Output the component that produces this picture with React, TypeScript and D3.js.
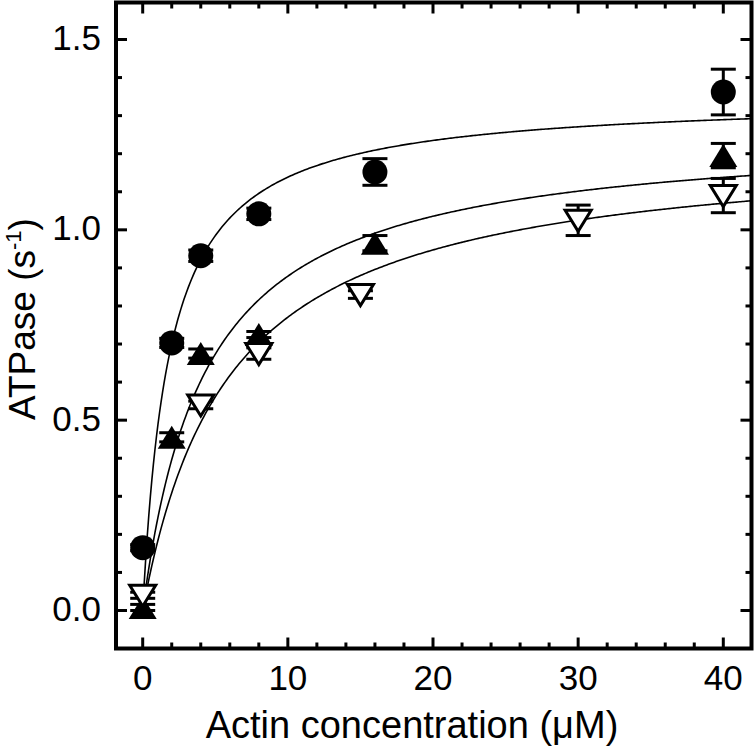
import React from 'react';
import * as d3 from 'd3';

const W = 755;
const H = 747;

// Series: filled circles
const circleX = [0, 2, 4, 8, 16, 40];
const circleY = [0.165, 0.703, 0.932, 1.042, 1.152, 1.362];
const circleErr = [0.008, 0.012, 0.015, 0.015, 0.035, 0.06];
// Series: filled up-triangles
const triX = [0, 2, 4, 8, 16, 40];
const triY = [0.008, 0.455, 0.675, 0.725, 0.965, 1.195];
const triErr = [0.008, 0.012, 0.012, 0.008, 0.02, 0.032];
// Series: open down-triangles
const invX = [0, 4, 8, 15, 30, 40];
const invY = [0.04, 0.54, 0.675, 0.83, 1.025, 1.09];
const invErr = [0.008, 0.01, 0.015, 0.01, 0.04, 0.045];

// Michaelis-Menten fit parameters (circle, triangle, inverted triangle)
const fitVmax = [1.349, 1.262, 1.229];
const fitKm = [1.85, 4.37, 5.95];

const xMajor = [0, 10, 20, 30, 40];
const xMajorLabels = ['0', '10', '20', '30', '40'];
const xMinor = [2, 4, 6, 8, 12, 14, 16, 18, 22, 24, 26, 28, 32, 34, 36, 38];
const yMajor = [0, 0.5, 1.0, 1.5];
const yMajorLabels = ['0.0', '0.5', '1.0', '1.5'];
const yMinor = [0.1, 0.2, 0.3, 0.4, 0.6, 0.7, 0.8, 0.9, 1.1, 1.2, 1.3, 1.4];

const L = 116, R = 751.5, T = 2.5, B = 648.5;
const FONT = '"Liberation Sans", Arial, Helvetica, sans-serif';

export default function App() {
  const x = d3.scaleLinear().domain([0, 40]).range([142.7, 723.3]);
  const y = d3.scaleLinear().domain([0, 1.5]).range([610.5, 39.5]);

  const xEnd = x.invert(R);
  const samples = d3.range(0, 400).map((i) => (i / 399) * xEnd);
  const line = d3
    .line<number[]>()
    .x((d) => x(d[0]))
    .y((d) => y(d[1]));

  const curves = fitVmax.map((V, i) =>
    line(samples.map((c) => [c, (V * c) / (fitKm[i] + c)]))
  );

  const errBar = (cx: number, v: number, e: number, key: string) => {
    const px = x(cx);
    const y1 = y(v + e);
    const y2 = y(v - e);
    return (
      <g key={key} stroke="#000" strokeWidth={3}>
        <line x1={px} x2={px} y1={y1} y2={y2} />
        <line x1={px - 12.5} x2={px + 12.5} y1={y1} y2={y1} />
        <line x1={px - 12.5} x2={px + 12.5} y1={y2} y2={y2} />
      </g>
    );
  };

  const tw = 14; // half width of triangle
  const th = 11.5; // half height of triangle
  const upTri = (px: number, py: number) =>
    `M${px},${py - th}L${px + tw},${py + th}L${px - tw},${py + th}Z`;
  const downTri = (px: number, py: number) =>
    `M${px - 13},${py - 10}L${px + 13},${py - 10}L${px},${py + 11}Z`;

  return (
    <svg
      width={W}
      height={H}
      style={{ position: 'absolute', left: 0, top: 0, background: '#fff' }}
      fontFamily={FONT}
    >
      <rect x={0} y={0} width={W} height={H} fill="#fff" />
      <defs>
        <clipPath id="plotClip">
          <rect x={L} y={T} width={R - L} height={B - T} />
        </clipPath>
      </defs>

      {/* fit curves */}
      <g clipPath="url(#plotClip)" fill="none" stroke="#000" strokeWidth={1.6}>
        {curves.map((d, i) => (
          <path key={i} d={d || ''} />
        ))}
      </g>

      {/* error bars */}
      {circleX.map((c, i) => errBar(c, circleY[i], circleErr[i], 'ce' + i))}
      {triX.map((c, i) => errBar(c, triY[i], triErr[i], 'te' + i))}
      {invX.map((c, i) => errBar(c, invY[i], invErr[i], 'ie' + i))}

      {/* markers */}
      {triX.map((c, i) => (
        <path key={'t' + i} d={upTri(x(c), y(triY[i]))} fill="#000" />
      ))}
      {invX.map((c, i) => (
        <path
          key={'i' + i}
          d={downTri(x(c), y(invY[i]))}
          fill="#fff"
          stroke="#000"
          strokeWidth={3}
          strokeLinejoin="miter"
        />
      ))}
      {circleX.map((c, i) => (
        <circle key={'c' + i} cx={x(c)} cy={y(circleY[i])} r={12.5} fill="#000" />
      ))}

      {/* ticks */}
      <g stroke="#000" strokeWidth={3}>
        {xMajor.map((v) => (
          <g key={'xM' + v}>
            <line x1={x(v)} x2={x(v)} y1={B} y2={B - 11} />
            <line x1={x(v)} x2={x(v)} y1={T} y2={T + 11} />
          </g>
        ))}
        {xMinor.map((v) => (
          <g key={'xm' + v}>
            <line x1={x(v)} x2={x(v)} y1={B} y2={B - 6} />
            <line x1={x(v)} x2={x(v)} y1={T} y2={T + 6} />
          </g>
        ))}
        {yMajor.map((v) => (
          <g key={'yM' + v}>
            <line x1={L} x2={L + 11} y1={y(v)} y2={y(v)} />
            <line x1={R} x2={R - 11} y1={y(v)} y2={y(v)} />
          </g>
        ))}
        {yMinor.map((v) => (
          <g key={'ym' + v}>
            <line x1={L} x2={L + 6} y1={y(v)} y2={y(v)} />
            <line x1={R} x2={R - 6} y1={y(v)} y2={y(v)} />
          </g>
        ))}
      </g>

      {/* frame */}
      <rect x={L} y={T} width={R - L} height={B - T} fill="none" stroke="#000" strokeWidth={4} />

      {/* tick labels */}
      <g fontSize={35} fill="#000">
        {xMajor.map((v, i) => (
          <text key={'xl' + v} x={x(v)} y={690} textAnchor="middle">
            {xMajorLabels[i]}
          </text>
        ))}
        {yMajor.map((v, i) => (
          <text key={'yl' + v} x={101} y={y(v) + 10.5} textAnchor="end">
            {yMajorLabels[i]}
          </text>
        ))}
      </g>

      {/* axis titles */}
      <text x={412} y={738} fontSize={38} textAnchor="middle" fill="#000">
        Actin concentration (μM)
      </text>
      <text
        transform="translate(35,319) rotate(-90)"
        fontSize={37}
        textAnchor="middle"
        fill="#000"
      >
        ATPase (s
        <tspan dy={-14} fontSize={22}>
          -1
        </tspan>
        <tspan dy={14}>)</tspan>
      </text>
    </svg>
  );
}
